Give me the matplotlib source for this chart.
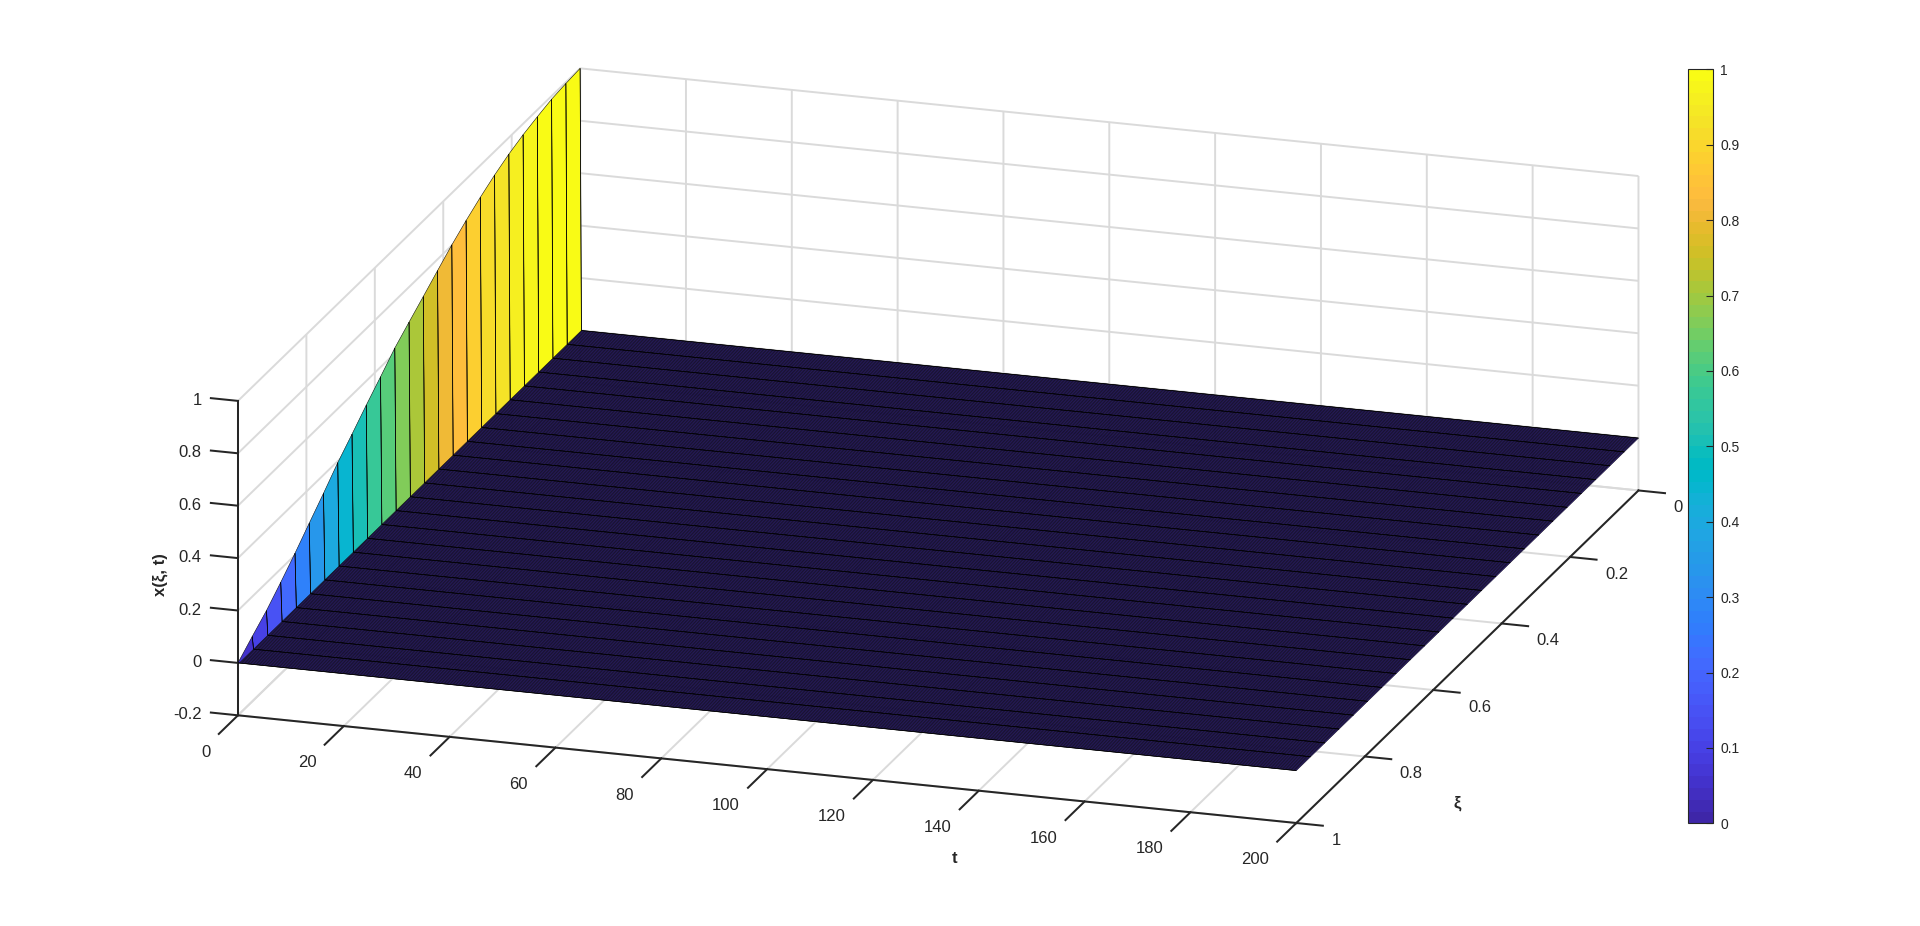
import numpy as np
import matplotlib
matplotlib.use("Agg")
import matplotlib.pyplot as plt
from matplotlib.colors import ListedColormap, Normalize
from matplotlib.cm import ScalarMappable
from matplotlib.transforms import Affine2D

# ---- data ----
xi = np.linspace(0, 1, 25)
t = np.linspace(0, 200, 801)
x_initial = [1.000, 0.995, 0.988, 0.974, 0.958, 0.937, 0.910, 0.878, 0.842,
             0.802, 0.757, 0.711, 0.666, 0.620, 0.563, 0.508, 0.450, 0.394,
             0.330, 0.269, 0.207, 0.149, 0.094, 0.048, 0.000]
t_ticks = [0, 20, 40, 60, 80, 100, 120, 140, 160, 180, 200]
xi_ticks = [0, 0.2, 0.4, 0.6, 0.8, 1]
xi_ticklabels = ['0', '0.2', '0.4', '0.6', '0.8', '1']
z_ticks = [-0.2, 0, 0.2, 0.4, 0.6, 0.8, 1]
z_ticklabels = ['-0.2', '0', '0.2', '0.4', '0.6', '0.8', '1']
cbar_ticks = [0, 0.1, 0.2, 0.3, 0.4, 0.5, 0.6, 0.7, 0.8, 0.9, 1]
cbar_ticklabels = ['0', '0.1', '0.2', '0.3', '0.4', '0.5', '0.6', '0.7', '0.8', '0.9', '1']

parula = ListedColormap([
    [0.2422,0.1504,0.6603],[0.2504,0.1650,0.7076],[0.2578,0.1818,0.7511],[0.2647,0.1978,0.7952],
    [0.2706,0.2147,0.8364],[0.2751,0.2342,0.8710],[0.2783,0.2559,0.8991],[0.2803,0.2782,0.9221],
    [0.2813,0.3006,0.9414],[0.2810,0.3228,0.9579],[0.2795,0.3447,0.9717],[0.2760,0.3667,0.9829],
    [0.2699,0.3892,0.9906],[0.2602,0.4123,0.9952],[0.2440,0.4358,0.9988],[0.2206,0.4603,0.9973],
    [0.1963,0.4847,0.9892],[0.1834,0.5074,0.9798],[0.1786,0.5289,0.9682],[0.1764,0.5499,0.9520],
    [0.1687,0.5703,0.9359],[0.1540,0.5902,0.9218],[0.1460,0.6091,0.9079],[0.1380,0.6276,0.8973],
    [0.1248,0.6459,0.8883],[0.1113,0.6635,0.8763],[0.0952,0.6798,0.8598],[0.0689,0.6948,0.8394],
    [0.0297,0.7082,0.8163],[0.0036,0.7203,0.7917],[0.0067,0.7312,0.7660],[0.0433,0.7411,0.7394],
    [0.0964,0.7500,0.7120],[0.1408,0.7584,0.6842],[0.1717,0.7670,0.6554],[0.1938,0.7758,0.6251],
    [0.2161,0.7843,0.5923],[0.2470,0.7918,0.5567],[0.2906,0.7973,0.5188],[0.3406,0.8008,0.4789],
    [0.3909,0.8029,0.4354],[0.4456,0.8024,0.3909],[0.5044,0.7993,0.3480],[0.5616,0.7942,0.3045],
    [0.6174,0.7876,0.2612],[0.6720,0.7793,0.2227],[0.7242,0.7698,0.1910],[0.7738,0.7598,0.1646],
    [0.8203,0.7498,0.1535],[0.8634,0.7406,0.1596],[0.9035,0.7330,0.1774],[0.9393,0.7288,0.2100],
    [0.9728,0.7298,0.2394],[0.9956,0.7434,0.2371],[0.9970,0.7659,0.2199],[0.9952,0.7893,0.2028],
    [0.9892,0.8136,0.1885],[0.9786,0.8386,0.1766],[0.9676,0.8639,0.1643],[0.9610,0.8890,0.1537],
    [0.9597,0.9135,0.1423],[0.9628,0.9373,0.1265],[0.9691,0.9606,0.1064],[0.9769,0.9839,0.0805]],
    name='parula')

INK = '#262626'
plt.rcParams.update({
    'font.family': ['Liberation Sans', 'DejaVu Sans'],
    'text.color': INK, 'axes.labelcolor': INK,
    'xtick.color': INK, 'ytick.color': INK, 'xtick.labelcolor': INK, 'ytick.labelcolor': INK,
    'axes.edgecolor': INK, 'axes.linewidth': 1.45,
    'xtick.major.width': 1.45, 'ytick.major.width': 1.45,
    'grid.color': '#dadada', 'grid.linewidth': 1.4,
})

W, H = 1920, 926
fig = plt.figure(figsize=(W / 100, H / 100), dpi=100, facecolor='white')

S = 1560.0
cx, cy = 938.2, 445.7
left = cx - 0.5135 * S
bottom = (H - cy) - 0.5135 * S
ax = fig.add_axes([left / W, bottom / H, S / W, S / H], projection='3d', proj_type='ortho')
ax.patch.set_visible(False)
ax.computed_zorder = False
ax.view_init(elev=18.33, azim=-72.07)
ax.set_box_aspect((1115, 1114, 332), zoom=1.0)

T, XI = np.meshgrid(t, xi, indexing='ij')
Z = np.zeros_like(T)
Z[0, :] = x_initial
norm = Normalize(0, 1)
surf = ax.plot_surface(T, XI, Z, rstride=1, cstride=1, facecolors=parula(norm(Z)),
                       shade=False, linewidth=0.36, antialiased=True, zorder=2)
surf.set_edgecolor('black')
# mesh lines of constant xi stand out from the fine lines of constant t
ax.plot_wireframe(T, XI, Z, rstride=0, cstride=1, color='black', linewidth=0.55, zorder=3)

ax.set_xlim(0, 200, view_margin=0)
ax.set_ylim(1, 0, view_margin=0)
ax.set_zlim(-0.2, 1, view_margin=0)

ax.set_xticks(t_ticks, [str(v) for v in t_ticks], fontsize=12)
ax.set_yticks(xi_ticks, xi_ticklabels, fontsize=12)
ax.set_zticks(z_ticks, z_ticklabels, fontsize=12)

for axis in (ax.xaxis, ax.yaxis, ax.zaxis):
    axis.set_pane_color((1, 1, 1, 0))
    axis.pane.set_edgecolor((1, 1, 1, 0))
    axis.set_rotate_label(False)
ax.xaxis._axinfo['tick'].update(inward_factor=0, outward_factor=-0.70)
ax.yaxis._axinfo['tick'].update(inward_factor=0, outward_factor=-0.313)
ax.zaxis._axinfo['tick'].update(inward_factor=0, outward_factor=0.32)
# the vertical axis stands at the front-left corner of the box, its ticks along t
ax.zaxis._get_tickdir = lambda pos: 0
ax.zaxis._get_axis_line_edge_points = lambda minmax, maxmin, position=None: (
    np.array([0.0, 1.0, -0.2]), np.array([0.0, 1.0, 1.0]))


def nudge_labels(axis, dx, dy, **align):
    """Shift one axis' tick labels by some pixels whenever its ticks are refreshed."""
    base = axis.get_major_ticks
    def get_major_ticks(numticks=None):
        ticks = base(numticks)
        for tick in ticks:
            tick.label1.set_transform(ax.transData + Affine2D().translate(dx, dy))
            tick.label1.set(**align)
        return ticks
    axis.get_major_ticks = get_major_ticks


def nudge_title(label, dx, dy):
    """Shift an axis title by some pixels just before it is drawn."""
    base = label.draw
    def draw(renderer):
        label._transform = ax.transData + Affine2D().translate(dx, dy)
        base(renderer)
    label.draw = draw


ax.tick_params(axis='both', pad=8)
ax.tick_params(axis='z', pad=8)
nudge_labels(ax.xaxis, -18, -19, ha='right', va='center')
nudge_labels(ax.yaxis, 6, -5.5, ha='left', va='center')
nudge_labels(ax.zaxis, 2, 6.5, ha='right', va='center')

ax.set_xlabel('t', fontsize=12, fontweight='bold', labelpad=30, rotation=0)
ax.set_ylabel('ξ', fontsize=12, fontweight='bold', labelpad=30, rotation=0)
ax.set_zlabel('x(ξ, t)', fontsize=12, fontweight='bold', labelpad=30, rotation=90)
nudge_title(ax.xaxis.label, 217, -33)
nudge_title(ax.yaxis.label, -102, -110)
nudge_title(ax.zaxis.label, 44, 3)

# colour bar
cax = fig.add_axes([1688.3 / W, (H - 823.3) / H, 25 / W, 754 / H])
cb = fig.colorbar(ScalarMappable(norm=norm, cmap=parula), cax=cax)
cb.set_ticks(cbar_ticks, labels=cbar_ticklabels)
cb.ax.tick_params(direction='in', length=5, width=0.8, labelsize=10, pad=5, color=INK)
cb.outline.set_edgecolor(INK)
cb.outline.set_linewidth(0.8)

fig.savefig('out.png', dpi=100)
